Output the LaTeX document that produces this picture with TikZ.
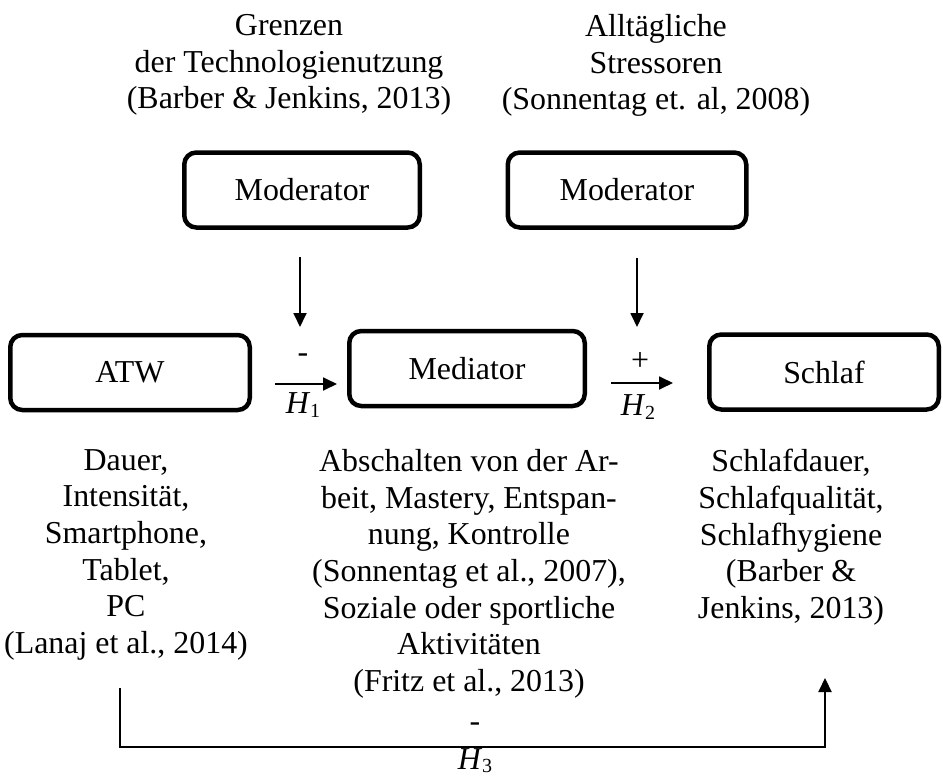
\documentclass[tikz,border=0pt]{standalone}
\usepackage{fontspec}
\setmainfont{Liberation Serif}
\usetikzlibrary{arrows.meta}
\newcommand{\hyplabel}[1]{\textit{H}\raisebox{-0.1em}{\fontsize{20}{20}\selectfont #1}}
\begin{document}
\begin{tikzpicture}[x=1pt,y=-1pt,
                every node/.style={font=\fontsize{31.9}{36.7}\selectfont, inner sep=0pt},
                box/.style={draw, line width=4.5pt, rounded corners=12pt, minimum height=75pt},
                txt/.style={align=center, anchor=north},
                arr/.style={line width=1.8pt, -{Triangle[length=14pt,width=13pt]}}]
                \useasboundingbox (0,0) rectangle (943,776);
                \node[txt] (grenzen) at (289,14) {Grenzen\\der Technologienutzung\\(Barber \& Jenkins, 2013)};
                \node[txt] (stressoren) at (656,14) {Alltägliche\\Stressoren\\(Sonnentag et. al, 2008)};
                \node[box, minimum width=235.5pt] (mod1) at (302,190) {Moderator};
                \node[box, minimum width=238.5pt] (mod2) at (627,190) {Moderator};
                \node[box, minimum width=239.5pt] (atw) at (130,372.5) {ATW};
                \node[box, minimum width=235.5pt] (med) at (467,368.5) {Mediator};
                \node[box, minimum width=229.5pt] (schlaf) at (824,372) {Schlaf};
                \node[txt] (atwtxt) at (126,449) {Dauer,\\Intensität,\\Smartphone,\\Tablet,\\PC\\(Lanaj et al., 2014)};
                \node[txt] (medtxt) at (469,449) {Abschalten von der Ar-\\beit, Mastery, Entspan-\\nung, Kontrolle\\(Sonnentag et al., 2007),\\Soziale oder sportliche\\Aktivitäten\\(Fritz et al., 2013)};
                \node[txt] (schlaftxt) at (791,449) {Schlafdauer,\\Schlafqualität,\\Schlafhygiene\\(Barber \&\\Jenkins, 2013)};
                \coordinate (m1a) at (300,257); \coordinate (m1b) at (300,327);
                \coordinate (m2a) at (637,258); \coordinate (m2b) at (637,327);
                \coordinate (h1a) at (275,384); \coordinate (h1b) at (337,384);
                \coordinate (h2a) at (611,383); \coordinate (h2b) at (673,383);
                \coordinate (h3a) at (120,688); \coordinate (h3b) at (825,678);
                \draw[arr] (m1a) -- (m1b);
                \draw[arr] (m2a) -- (m2b);
                \draw[arr] (h1a) -- (h1b);
                \draw[arr] (h2a) -- (h2b);
                \draw[arr, line width=2.2pt] (h3a) -- ++(0,59) -| (h3b);
                \node (sign1) at (303,358) {-};
                \node (sign2) at (640,361) {+};
                \node (sign3) at (475,727) {-};
                \node (hyp1) at (303,405) {\hyplabel{1}};
                \node (hyp2) at (638,407) {\hyplabel{2}};
                \node (hyp3) at (475,761) {\hyplabel{3}};
            \end{tikzpicture}
\end{document}
